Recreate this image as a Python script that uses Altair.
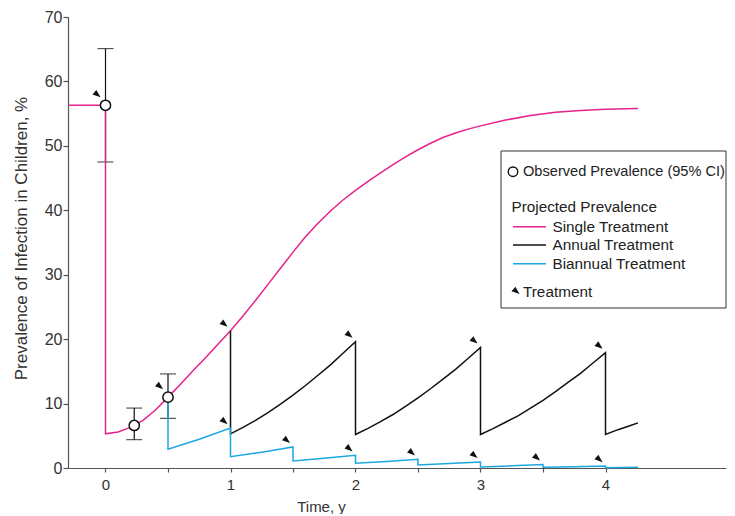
import altair as alt
import pandas as pd

# ---------------- data ----------------
single_t = [-0.3, 0, 0, 0.1, 0.2, 0.3, 0.4, 0.5, 0.6, 0.7, 0.8, 0.9, 1.0, 1.1, 1.2, 1.3, 1.4, 1.5,
            1.6, 1.7, 1.8, 1.9, 2.0, 2.1, 2.2, 2.3, 2.4, 2.5, 2.6, 2.7, 2.8, 2.9, 3.0, 3.2, 3.4,
            3.6, 3.8, 4.0, 4.26]
single_v = [56.3, 56.3, 5.3, 5.6, 6.3, 7.4, 9.0, 11.0, 13.0, 15.1, 17.1, 19.2, 21.3, 23.6, 26.0,
            28.5, 31.0, 33.5, 35.9, 38.0, 39.9, 41.6, 43.1, 44.5, 45.8, 47.1, 48.3, 49.4, 50.4,
            51.3, 52.0, 52.6, 53.1, 54.0, 54.7, 55.2, 55.5, 55.7, 55.8]

annual_t = [1.0, 1.0, 1.1, 1.2, 1.3, 1.4, 1.5, 1.6, 1.7, 1.8, 1.9, 2.0,
            2.0, 2.1, 2.2, 2.3, 2.4, 2.5, 2.6, 2.7, 2.8, 2.9, 3.0,
            3.0, 3.1, 3.2, 3.3, 3.4, 3.5, 3.6, 3.7, 3.8, 3.9, 4.0,
            4.0, 4.1, 4.2, 4.26]
annual_v = [21.3, 5.3, 6.3, 7.4, 8.6, 9.9, 11.3, 12.8, 14.4, 16.0, 17.8, 19.6,
            5.2, 6.15, 7.2, 8.3, 9.55, 10.9, 12.3, 13.8, 15.3, 17.0, 18.7,
            5.2, 6.1, 7.1, 8.1, 9.3, 10.5, 11.85, 13.3, 14.7, 16.3, 17.9,
            5.2, 5.95, 6.6, 7.0]

biannual_t = [0.5, 0.5, 0.75, 1.0, 1.0, 1.25, 1.5, 1.5, 1.75, 2.0, 2.0, 2.25, 2.5, 2.5, 2.75,
              3.0, 3.0, 3.25, 3.5, 3.5, 3.75, 4.0, 4.0, 4.26]
biannual_v = [11.0, 2.9, 4.45, 6.2, 1.76, 2.45, 3.26, 1.09, 1.5, 1.97, 0.73, 1.0, 1.34, 0.46, 0.68,
              0.93, 0.15, 0.33, 0.55, 0.1, 0.2, 0.3, 0.05, 0.1]

series_names = ["Single Treatment", "Annual Treatment", "Biannual Treatment"]
series_colors = ["#E6228C", "#111111", "#1BA8E0"]

obs_t = [0.0, 0.23, 0.5]
obs_v = [56.3, 6.6, 11.0]
obs_lo = [47.5, 4.4, 7.7]
obs_hi = [65.1, 9.3, 14.6]

treat_obs_t = [0.0, 0.5]
treat_obs_v = [56.3, 11.0]
treat_t = [1.0, 1.0, 1.5, 2.0, 2.0, 2.5, 3.0, 3.0, 3.5, 4.0, 4.0]
treat_v = [21.3, 6.2, 3.26, 19.6, 1.97, 1.34, 18.7, 0.93, 0.55, 17.9, 0.3]

x_ticks = [0, 0.5, 1, 1.5, 2, 2.5, 3, 3.5, 4]
y_ticks = [0, 10, 20, 30, 40, 50, 60, 70]

# ---------------- frames ----------------
rows = []
for name, ts, vs in zip(series_names, [single_t, annual_t, biannual_t],
                        [single_v, annual_v, biannual_v]):
    for i, (t, v) in enumerate(zip(ts, vs)):
        rows.append({"t": t, "v": v, "series": name, "i": i})
lines_df = pd.DataFrame(rows)
obs_df = pd.DataFrame({"t": obs_t, "v": obs_v, "lo": obs_lo, "hi": obs_hi})
tobs_df = pd.DataFrame({"t": treat_obs_t, "v": treat_obs_v})
treat_df = pd.DataFrame({"t": treat_t, "v": treat_v})

FONT = "Liberation Sans"
W, H = 658, 451
xscale = alt.Scale(domain=[-0.3, 4.964], nice=False, zero=False)
yscale = alt.Scale(domain=[0, 70], nice=False)

X = alt.X("t:Q", scale=xscale, axis=alt.Axis(
    values=x_ticks, title="Time, y", grid=False,
    labelExpr="datum.value % 1 == 0 ? format(datum.value, 'd') : ''",
    labelFontSize=15, titleFontSize=15,
    tickSize=4, labelPadding=5, titlePadding=7,
    titleX=253, titleAlign="center"))
Y = alt.Y("v:Q", scale=yscale, axis=alt.Axis(
    values=y_ticks, title="Prevalence of Infection in Children, %", grid=False,
    labelFontSize=16, titleFontSize=17,
    tickSize=5, labelPadding=1, titlePadding=14, titleY=221, titleAlign="center"))

WEDGE = "M-1,-0.75L1,0L-1,0.75Z"
WSIZE = 64

lines = alt.Chart(lines_df).mark_line(strokeWidth=1.5, interpolate="linear").encode(
    x=X, y=Y,
    color=alt.Color("series:N", scale=alt.Scale(domain=series_names, range=series_colors),
                    legend=None),
    detail="series:N",
    order=alt.Order("i:Q"),
)

err_rule = alt.Chart(obs_df).mark_rule(color="#111111", strokeWidth=1.2).encode(
    x="t:Q", y="lo:Q", y2="hi:Q")
err_lo = alt.Chart(obs_df).mark_tick(color="#111111", thickness=1.2, size=16,
                                     orient="horizontal").encode(x="t:Q", y="lo:Q")
err_hi = alt.Chart(obs_df).mark_tick(color="#111111", thickness=1.2, size=16,
                                     orient="horizontal").encode(x="t:Q", y="hi:Q")

obs_pts = alt.Chart(obs_df).mark_point(shape="circle", size=105, filled=False, fill="white",
                                       fillOpacity=1, stroke="#111111", strokeWidth=1.5,
                                       opacity=1).encode(x="t:Q", y="v:Q")

tmark_obs = alt.Chart(tobs_df).mark_point(shape=WEDGE, size=WSIZE, filled=True, color="#111111",
                                          angle=40, xOffset=-8, yOffset=-10.5,
                                          opacity=1).encode(x="t:Q", y="v:Q")
tmark = alt.Chart(treat_df).mark_point(shape=WEDGE, size=WSIZE, filled=True, color="#111111",
                                       angle=40, xOffset=-6, yOffset=-6.5,
                                       opacity=1).encode(x="t:Q", y="v:Q")

# ---------------- legend (layout only) ----------------
one = pd.DataFrame({"k": [0]})
box = alt.Chart(one).mark_rect(fill="white", stroke="#333333", strokeWidth=1).encode(
    x=alt.value(433), x2=alt.value(W), y=alt.value(134), y2=alt.value(291))
leg_circle = alt.Chart(one).mark_point(shape="circle", size=90, filled=False, fill="white",
                                       stroke="#111111", strokeWidth=1.4, opacity=1).encode(
    x=alt.value(445), y=alt.value(154.7))


def leg_text(txt, x, y, size=15.3):
    return alt.Chart(one).mark_text(text=txt, align="left", baseline="middle", font=FONT,
                                    fontSize=size, color="#222222").encode(
        x=alt.value(x), y=alt.value(y))


def leg_line(color, y):
    return alt.Chart(one).mark_rule(color=color, strokeWidth=1.5).encode(
        x=alt.value(445), x2=alt.value(478), y=alt.value(y))


leg_wedge = alt.Chart(one).mark_point(shape=WEDGE, size=WSIZE, filled=True, color="#111111",
                                      angle=40, opacity=1).encode(
    x=alt.value(448.5), y=alt.value(274.5))

legend_layers = [
    box, leg_circle,
    leg_text("Observed Prevalence (95% CI)", 455, 154.7, 14.6),
    leg_text("Projected Prevalence", 443.5, 189.7),
    leg_line(series_colors[0], 209.7), leg_text("Single Treatment", 484.5, 209.7),
    leg_line(series_colors[1], 228), leg_text("Annual Treatment", 484.5, 228),
    leg_line(series_colors[2], 246.7), leg_text("Biannual Treatment", 484.5, 246.7),
    leg_wedge, leg_text("Treatment", 455, 274.7),
]

chart = alt.layer(
    err_rule, err_lo, err_hi, lines, obs_pts, tmark_obs, tmark, *legend_layers
).properties(
    width=W, height=H,
    padding={"left": 4, "top": 1, "right": 0, "bottom": 0},
).configure_view(stroke=None).configure_axis(
    labelFont=FONT, titleFont=FONT,
    labelColor="#333333", titleColor="#333333", titleFontWeight="normal",
    domainColor="#555555", tickColor="#555555", domainWidth=1.2, tickWidth=1.2,
)

chart.save("out.html", embed_options={"renderer": "svg", "actions": False})
